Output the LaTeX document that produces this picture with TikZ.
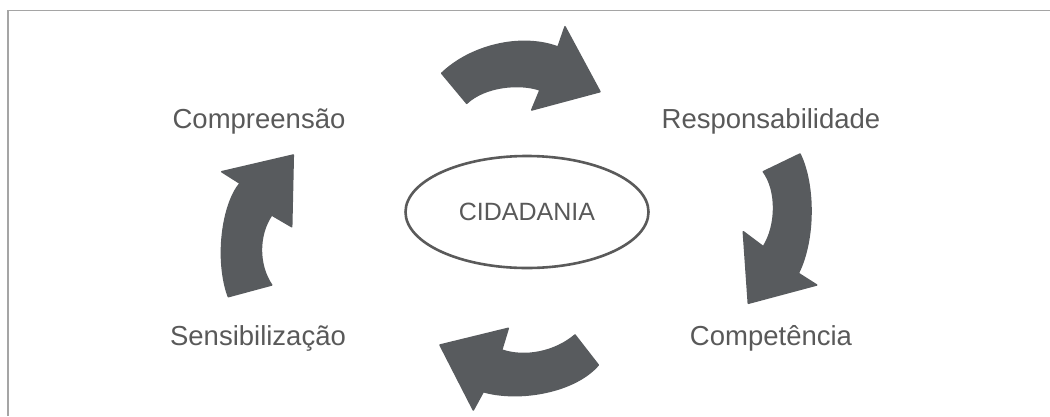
\documentclass[tikz,border=0pt]{standalone}
\usepackage{fontspec}
\setmainfont{Liberation Sans}
\usetikzlibrary{shapes.geometric}
\definecolor{labelgray}{RGB}{89,89,89}
\definecolor{arrowgray}{RGB}{88,91,94}
\definecolor{framegray}{RGB}{165,165,165}
\definecolor{ringgray}{RGB}{90,90,90}
\begin{document}
\begin{tikzpicture}[x=1pt,y=-1pt,
  stage/.style={font=\fontsize{27.5}{30}\selectfont, text=labelgray, anchor=base, inner sep=0pt},
  bigarrow/.style={fill=arrowgray, draw=arrowgray, line width=1.5pt, line join=round},
  centre/.style={ellipse, draw=ringgray, line width=2.6pt, minimum width=243pt, minimum height=112pt,
    inner sep=0pt, font=\fontsize{25}{28}\selectfont, text=labelgray}]
\useasboundingbox (0,0) rectangle (1050,416);

% frame (top and left edges)
\draw[framegray, line width=1.6pt] (8,416) -- (8,10.5) -- (1050,10.5);

% centre ellipse
\node[centre] (cid) at (527,212) {CIDADANIA};

% stage labels
\node[stage] (comp) at (259,128) {Compreensão};
\node[stage] (resp) at (771,128) {Responsabilidade};
\node[stage] (sens) at (258,345) {Sensibilização};
\node[stage] (compet) at (771,345) {Competência};

% top arrow (towards Responsabilidade)
\path[bigarrow] (441.7,73.3) .. controls (470,46) and (520,33) .. (558,47)
  -- (565,26.7) -- (600,91.7) -- (531.7,110) -- (540,90)
  .. controls (520,83) and (485,86) .. (466.7,103.3) -- cycle;

% right arrow (towards Competência)
\path[bigarrow] (763.3,171.7) -- (800,154) .. controls (815,185) and (815,240) .. (798.3,273.3)
  -- (816.7,285) -- (748.3,303.3) -- (743.3,231.7) -- (763.3,246.7)
  .. controls (777,225) and (777,190) .. (763.3,171.7) -- cycle;

% bottom arrow (towards Sensibilização)
\path[bigarrow] (575,335) -- (598.3,365) .. controls (575,392) and (520,402) .. (483.3,391.7)
  -- (473.3,410) -- (440,345) -- (508.3,328.3) -- (501.7,350)
  .. controls (525,358) and (555,352) .. (575,335) -- cycle;

% left arrow (towards Compreensão)
\path[bigarrow] (228.3,296.7) -- (271.7,285) .. controls (258,265) and (258,235) .. (271.7,215)
  -- (291.7,226.7) -- (293.3,155) -- (221.7,171.7) -- (240,183.3)
  .. controls (222,205) and (215,260) .. (228.3,296.7) -- cycle;
\end{tikzpicture}
\end{document}
